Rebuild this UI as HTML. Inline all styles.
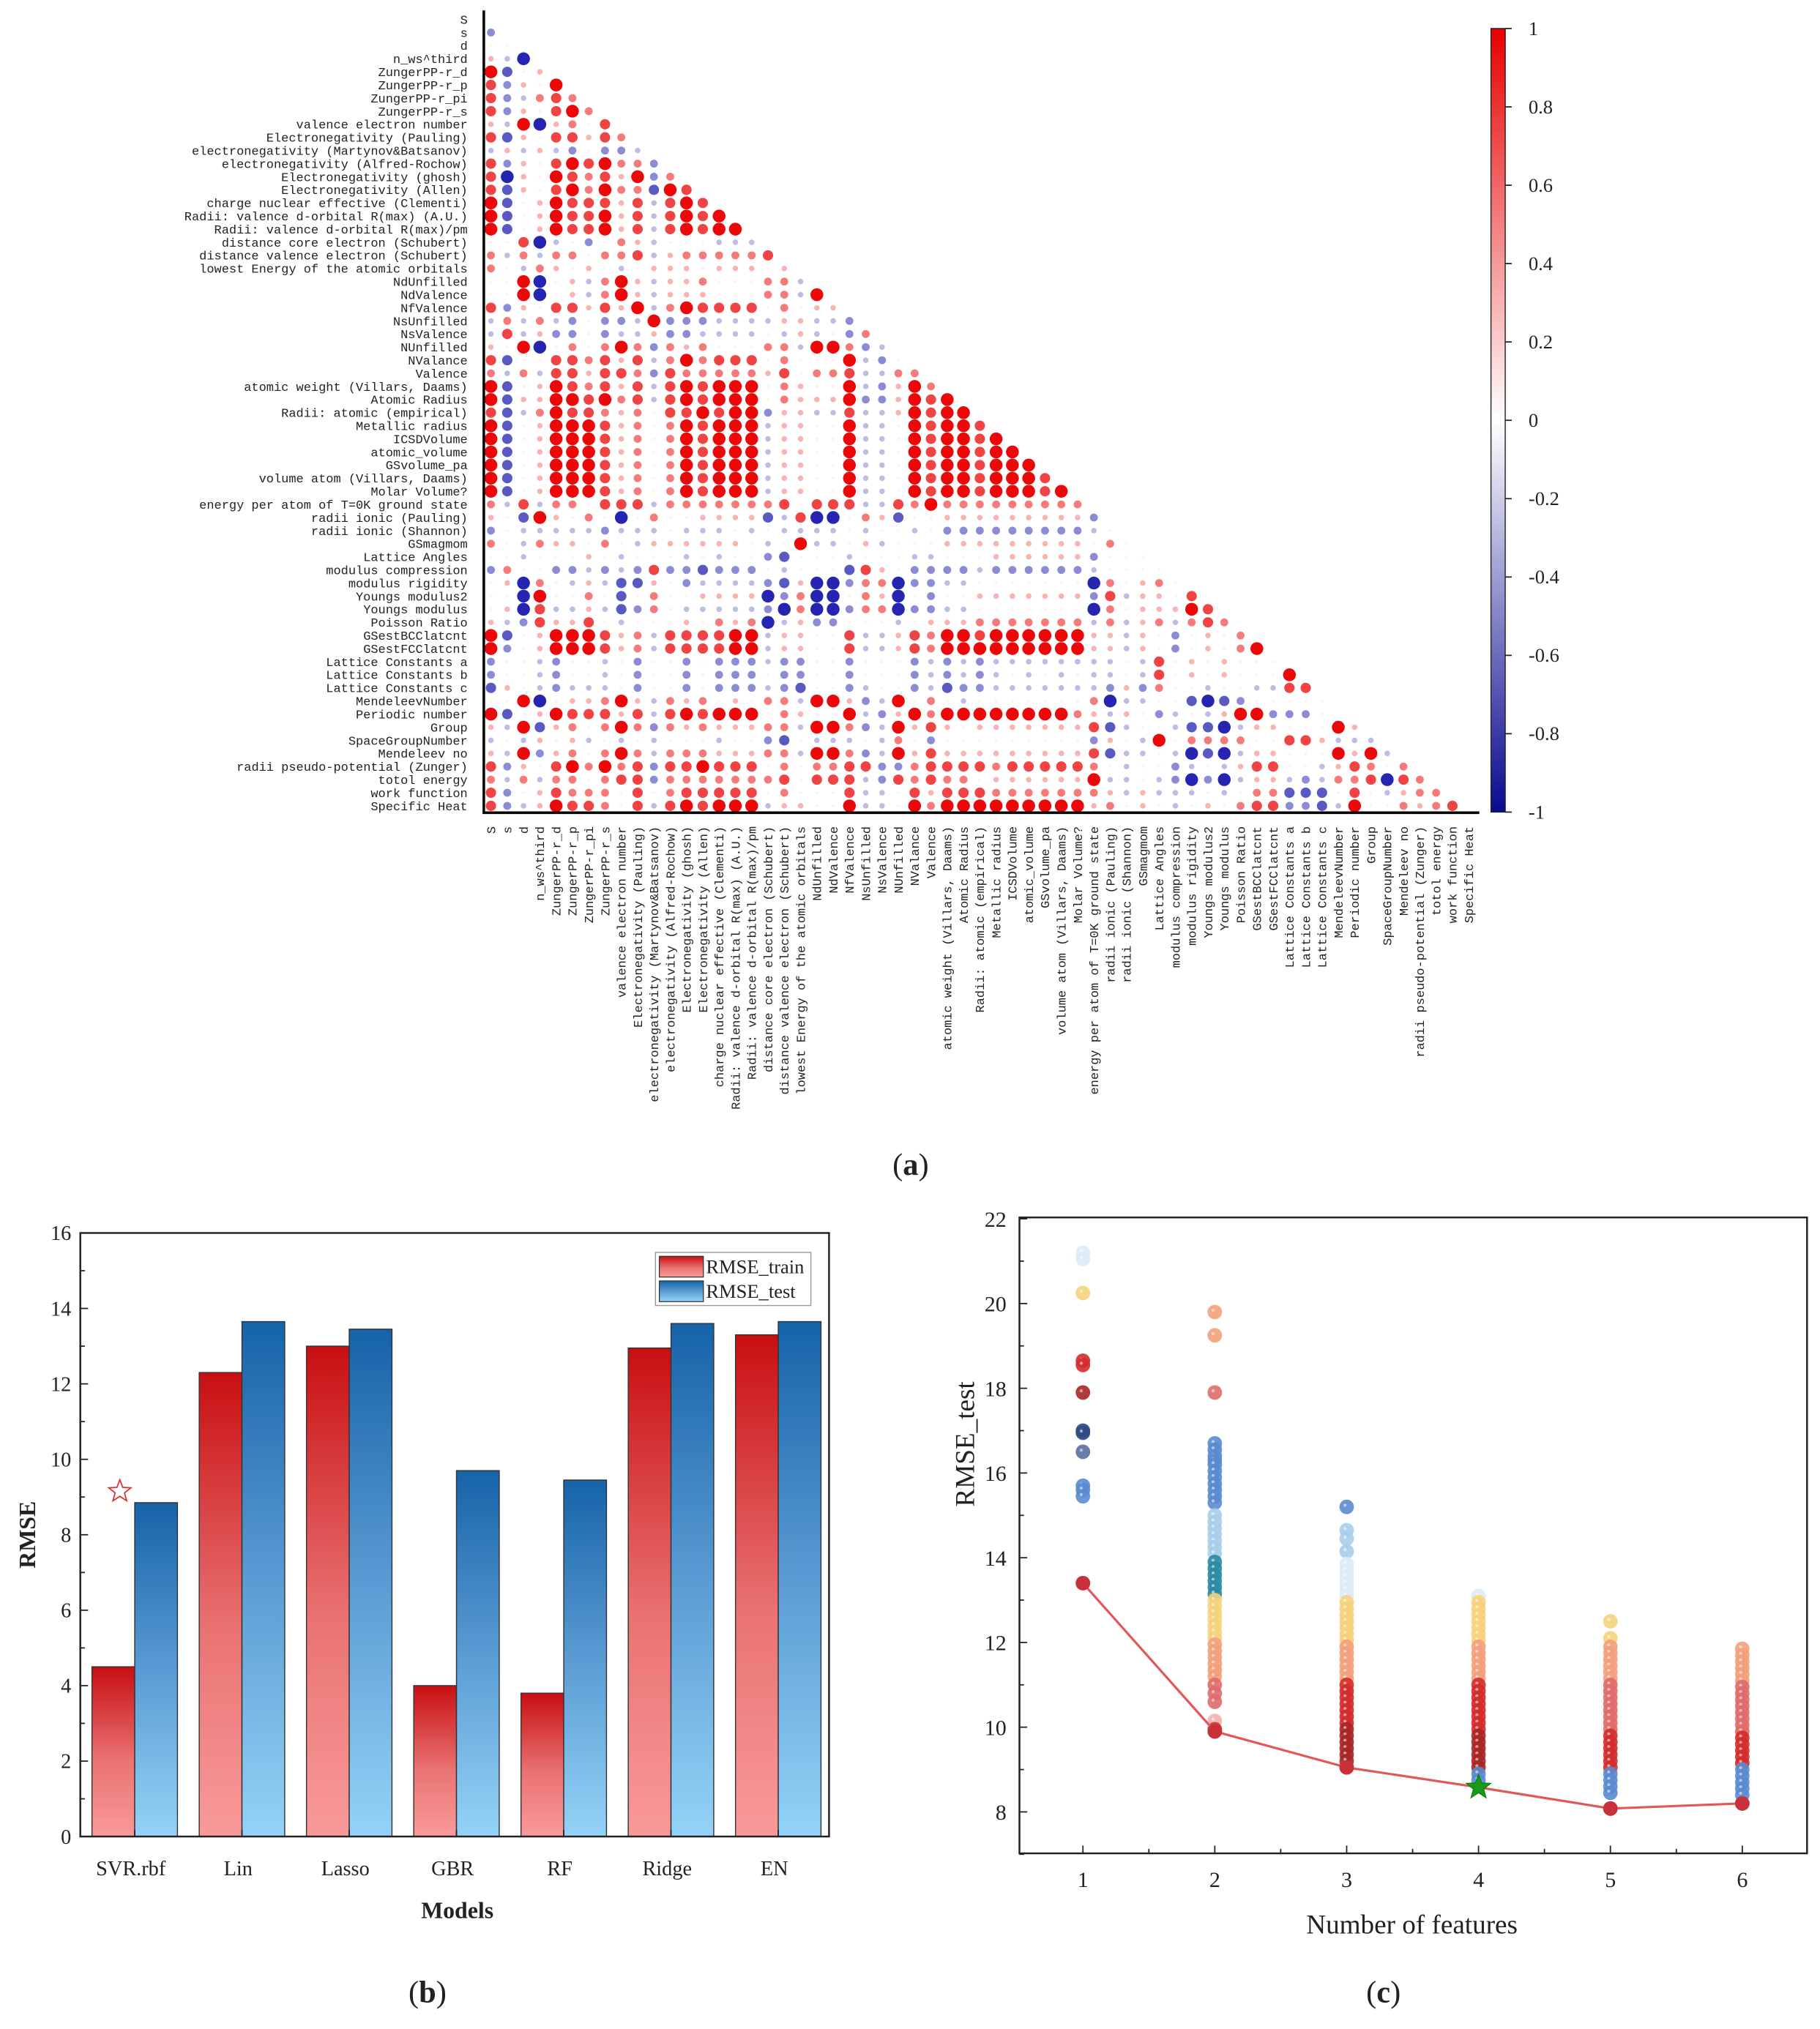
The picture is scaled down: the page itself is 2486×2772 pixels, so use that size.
<!DOCTYPE html>
<html><head><meta charset="utf-8"><style>
html,body{margin:0;padding:0;background:#fff;}
svg{display:block;}
.mono{font-family:"Liberation Mono",monospace;font-size:9.6px;fill:#222;}
.serif{font-family:"Liberation Serif",serif;fill:#222;}
</style></head><body>
<svg id="fig" xmlns="http://www.w3.org/2000/svg" width="2486" height="2772" viewBox="0 0 1405 1566.6">
<defs>
<linearGradient id="cbGrad" x1="0" y1="0" x2="0" y2="1">
<stop offset="0" stop-color="#e80000"/><stop offset="0.5" stop-color="#ffffff"/><stop offset="1" stop-color="#0a0a90"/>
</linearGradient>
<linearGradient id="trainGrad" x1="0" y1="0" x2="0" y2="1">
<stop offset="0" stop-color="#c80f12"/><stop offset="0.55" stop-color="#e97272"/><stop offset="1" stop-color="#f99a9a"/>
</linearGradient>
<linearGradient id="testGrad" x1="0" y1="0" x2="0" y2="1">
<stop offset="0" stop-color="#1663a8"/><stop offset="0.5" stop-color="#5a9bd3"/><stop offset="1" stop-color="#93d3f7"/>
</linearGradient>
</defs>
<g id="corr"></g>
<g id="bars"></g>
<g id="scat"></g>
<text x="703" y="907" text-anchor="middle" class="serif" font-size="24">(<tspan font-weight="bold">a</tspan>)</text>
<text x="330" y="1546" text-anchor="middle" class="serif" font-size="24">(<tspan font-weight="bold">b</tspan>)</text>
<text x="1068" y="1546" text-anchor="middle" class="serif" font-size="24">(<tspan font-weight="bold">c</tspan>)</text>
</svg>
<script>
const NS="http://www.w3.org/2000/svg";
function mk(parent,tag,attrs,txt){const e=document.createElementNS(NS,tag);for(const k in attrs)e.setAttribute(k,attrs[k]);if(txt!==undefined)e.textContent=txt;parent.appendChild(e);return e;}
function starPts(cx,cy,R,r){const p=[];for(let k=0;k<10;k++){const a=-Math.PI/2+k*Math.PI/5;const rr=k%2?r:R;p.push((cx+rr*Math.cos(a)).toFixed(2)+','+(cy+rr*Math.sin(a)).toFixed(2));}return p.join(' ');}

// ---------- (a) correlation matrix data ----------
const varNames=["S","s","d","n_ws^third","ZungerPP-r_d","ZungerPP-r_p","ZungerPP-r_pi","ZungerPP-r_s","valence electron number","Electronegativity (Pauling)","electronegativity (Martynov&Batsanov)","electronegativity (Alfred-Rochow)","Electronegativity (ghosh)","Electronegativity (Allen)","charge nuclear effective (Clementi)","Radii: valence d-orbital R(max) (A.U.)","Radii: valence d-orbital R(max)/pm","distance core electron (Schubert)","distance valence electron (Schubert)","lowest Energy of the atomic orbitals","NdUnfilled","NdValence","NfValence","NsUnfilled","NsValence","NUnfilled","NValance","Valence","atomic weight (Villars, Daams)","Atomic Radius","Radii: atomic (empirical)","Metallic radius","ICSDVolume","atomic_volume","GSvolume_pa","volume atom (Villars, Daams)","Molar Volume?","energy per atom of T=0K ground state","radii ionic (Pauling)","radii ionic (Shannon)","GSmagmom","Lattice Angles","modulus compression","modulus rigidity","Youngs modulus2","Youngs modulus","Poisson Ratio","GSestBCClatcnt","GSestFCClatcnt","Lattice Constants a","Lattice Constants b","Lattice Constants c","MendeleevNumber","Periodic number","Group","SpaceGroupNumber","Mendeleev no","radii pseudo-potential (Zunger)","totol energy","work function","Specific Heat"];
// correlation level codes per row (lower triangle): 0 ~ none, 1-4 positive, a-d negative
const corrRows=["","b","00","1ad","4c01","3b104","3ba232","3b10342","1a4d1203","3c1033132","a1a1ab0bba","3b10343422b","3d10432314b2","3c10342422c43","4c01433313a343","4c01433413a3434","4c01433413a34344","003da0b021a000aaa","2a2a220223a1222223","20a21010a0111011101","004d01a241a11200022a","004d01a241a11100022a4","3b10331314a24333302011","a2a2ab0bba4bbbaaaa11aab","a3a1bb0baa1bbaaaa0a1a0b2","104d020242b21200022a442ba","3c00332313a242333020004ab0","2a2a331332b322222130223aa22","4c01432313a343444021004ab142","4c11443423a343444021114bb1434","3ca24332120334344b11aa3aa14344",
"4c014443120243444a11004aa043443","4c014443120243444a11004aa0434434","4c014443120243444a11004aa04344344","4c014443120243444a11004aa043443444","4c014443120243444a11004aa0434434443","4c014443120243444a11004aa04344344434",
"2a3a220333a222222230333aa324222222222","10c41020d02001111ca3dd021c00111111111b","b0aaaaabaaa0aaa0a0aaaa0a00a0bbbbbbbbba0","20a211020a1111110a04aa01a0001111111110201",
"00a00010a000a0a00bc000a000aa000111111b000","b200bbabab3bbcbbb0a000c310bbbbabbbbbba0000","01d20a1acc10baaaabc1ddb22dbbaa0000000d20120","00d40020c02001111db2dd021d0b001111111b3a1103","01d3aa1acb20aaaaabd2ddb22dbbaa0000000d2011143","1ab31130a00010212da1bb000a01112222222a2a12a232",
"4c01444312a333344a11003aa13244344444411a10b0102","4b01444312a333344a11003aa13244444444411a10b01024","b00ab00a0b00b0bbbabb00b000bababaaaaaaaa0a30101000","b00ab00a0b00b0bbb0bb00b000bababa0a0a0aa0a301010004","c10abaaa0b00b0bbbabc00ba00bacbbaaaaaaab1b200a00aa33",
"004d011241a21201022a441ba4020a00000002daa00cdcb00000","4c01433313a343444021004ab1424444444421a10ba0a144bbb0","1a4c120242b21211122a442ba4131011111113ca00accda1100041","a0a101a0a0a000a00bc0aaa0a20b000000000b10a40222200331aaa","1a4b120242a22211122a442ba4131111111113caa0adcda11000414a",
"3b10342423b3343330202233bb2333323333320a00ba0a13300a13202","2a2a220233b222222230333ab3232201111114aa0abdbda11aba223d32","3b013222030233333020003aa03133322222221a1aaa0a022ccc030a122","3ba1433203a343444a11004aa04244444444412010a010233bbca4002123"];
const levelValues={"0":0.05,"1":0.27,"2":0.47,"3":0.67,"4":0.88,"a":-0.27,"b":-0.47,"c":-0.67,"d":-0.88};
const cbTicks=["1","0.8","0.6","0.4","0.2","0","-0.2","-0.4","-0.6","-0.8","-1"];

const corr=document.getElementById('corr');
const mx0=379,mdx=12.58,my0=15,mdy=10.12;
function mX(c){return mx0+mdx*c;}
function mY(r){return my0+mdy*r;}
function corrColor(v){const t=Math.min(1,Math.abs(v)*1.1);
 if(v>=0)return `rgb(${Math.round(255-20*t)},${Math.round(255-255*t)},${Math.round(255-255*t)})`;
 return `rgb(${Math.round(255-225*t)},${Math.round(255-225*t)},${Math.round(255-80*t)})`;}
for(let r=0;r<varNames.length;r++){
 const lab=mk(corr,'text',{x:361,y:mY(r)+3.3,'text-anchor':'end',class:'mono'},varNames[r]);
 
 
 const cl=mk(corr,'text',{transform:`translate(${mX(r)+3.3},638) rotate(-90)`,'text-anchor':'end',class:'mono'},varNames[r]);
 
 
 const row=corrRows[r]||"";
 for(let c=0;c<row.length&&c<r;c++){
  const v=levelValues[row[c]];if(v===undefined)continue;
  const dot=mk(corr,'circle',{cx:mX(c),cy:mY(r),r:0.9+4.6*Math.abs(v),fill:corrColor(v)});
  
  
 }
}
const ax1=mk(corr,'path',{d:'M373.5 8 V627.5 H1142',stroke:'#000','stroke-width':2,fill:'none'});


const cb=mk(corr,'rect',{x:1151,y:22,width:11,height:605,fill:'url(#cbGrad)',stroke:'#222','stroke-width':0.8});


cbTicks.forEach((t,i)=>{const y=22+i*60.5;
 const tk=mk(corr,'line',{x1:1162,x2:1167,y1:y,y2:y,stroke:'#222','stroke-width':1});
 
 
 const tl=mk(corr,'text',{x:1180,y:y+5,class:'serif','font-size':15},t);
 
 
});

// ---------- (b) bar chart ----------
const models=["SVR.rbf","Lin","Lasso","GBR","RF","Ridge","EN"];
const rmseTrain=[4.5,12.3,13.0,4.0,3.8,12.95,13.3];
const rmseTest=[8.85,13.65,13.45,9.7,9.45,13.6,13.65];
const barYTicks=[0,2,4,6,8,10,12,14,16];
const bars=document.getElementById('bars');
const bL=62,bR=640,bT=952,bB=1418,bMax=16;
function bY(v){return bB-(v/bMax)*(bB-bT);}
function bX(i){return 71+82.8*i;}
const bw=33;
models.forEach((m,i)=>{
 const x=bX(i);
 const r1=mk(bars,'rect',{x:x,y:bY(rmseTrain[i]),width:bw,height:bB-bY(rmseTrain[i]),fill:'url(#trainGrad)',stroke:'#333','stroke-width':0.8});
 
 
 const r2=mk(bars,'rect',{x:x+bw,y:bY(rmseTest[i]),width:bw,height:bB-bY(rmseTest[i]),fill:'url(#testGrad)',stroke:'#333','stroke-width':0.8});
 
 
 const xl=mk(bars,'text',{x:x+bw-3,y:1448,'text-anchor':'middle',class:'serif','font-size':16},m);
 
 
 const xt=mk(bars,'line',{x1:x+bw,x2:x+bw,y1:bB,y2:bB-5,stroke:'#222'});
 
 
});
barYTicks.forEach(v=>{const y=bY(v);
 const t=mk(bars,'line',{x1:bL,x2:bL+6,y1:y,y2:y,stroke:'#222','stroke-width':1});
 
 
 if(v<16){const m=mk(bars,'line',{x1:bL,x2:bL+3.5,y1:bY(v+1),y2:bY(v+1),stroke:'#222'});
  
  }
 const l=mk(bars,'text',{x:bL-7,y:y+5.5,'text-anchor':'end',class:'serif','font-size':16},String(v));
 
 
});
const bf=mk(bars,'rect',{x:bL,y:bT,width:bR-bL,height:bB-bT,fill:'none',stroke:'#222','stroke-width':1.4});


const star=mk(bars,'polygon',{points:starPts(bX(0)+bw/2+5,bY(9.15),9,3.8),fill:'none',stroke:'#e03030','stroke-width':1});


const lg=mk(bars,'rect',{x:506,y:967,width:120,height:41,fill:'#fff',stroke:'#999','stroke-width':0.8});


[["RMSE_train","url(#trainGrad)",970],["RMSE_test","url(#testGrad)",989]].forEach(([n,f,y])=>{
 const s=mk(bars,'rect',{x:509,y:y,width:34,height:16,fill:f,stroke:'#333','stroke-width':0.7});
 
 
 const t=mk(bars,'text',{x:545,y:y+13,class:'serif','font-size':15},n);
 
 
});
const byt=mk(bars,'text',{transform:'translate(27,1185) rotate(-90)','text-anchor':'middle',class:'serif','font-size':18,'font-weight':'bold'},'RMSE');


const bxt=mk(bars,'text',{x:353,y:1481,'text-anchor':'middle',class:'serif','font-size':18,'font-weight':'bold'},'Models');



// ---------- (c) scatter ----------
const featCounts=[1,2,3,4,5,6];
const bestRmse=[13.4,9.9,9.05,8.58,8.08,8.2];
const col1Vals=[21.2,21.05,20.25,18.65,18.55,17.9,17.0,16.95,16.5,15.7,15.6,15.45,13.4];
const col1Cols="PPYRRDNNSBBBR";
const col2Vals=[19.8,19.25,17.9,16.7,16.55,16.4,16.3,16.2,16.05,15.9,15.75,15.6,15.45,15.3,15.0,14.85,14.7,14.55,14.4,14.25,14.1,13.9,13.75,13.6,13.45,13.3,13.15,13.0,12.85,12.7,12.55,12.4,12.25,12.1,11.95,11.8,11.65,11.5,11.35,11.2,11.0,10.8,10.6,10.15,9.95,9.9];
const col2Cols="OOMBBBBBBBBBBBLLLLLLLTTTTTTYYYYYYYOOOOOOMMMKRR";
const col3Vals=[15.2,14.65,14.45,14.15,13.85,13.7,13.55,13.4,13.25,13.1,12.95,12.8,12.65,12.5,12.35,12.2,12.05,11.9,11.75,11.6,11.45,11.3,11.15,11.0,10.85,10.7,10.55,10.4,10.25,10.1,9.95,9.8,9.65,9.5,9.35,9.2,9.05];
const col3Cols="BLLLPPPPPPYYYYYYYOOOOOORRRRRRRDDDDDDR";
const col4Vals=[13.1,12.95,12.8,12.65,12.5,12.35,12.2,12.05,11.9,11.75,11.6,11.45,11.3,11.15,11.0,10.85,10.7,10.55,10.4,10.25,10.1,9.95,9.8,9.65,9.5,9.35,9.2,9.05,8.9,8.75];
const col4Cols="PYYYYYYYOOOOOORRRRRRRRDDDDDDBB";
const col5Vals=[12.5,12.1,11.9,11.75,11.6,11.45,11.3,11.15,11.0,10.85,10.7,10.55,10.4,10.25,10.1,9.95,9.8,9.65,9.5,9.35,9.2,9.05,8.9,8.75,8.6,8.45,8.08];
const col5Cols="YYOOOOOOMMMMMMMMRRRRRRBBBBD";
const col6Vals=[11.85,11.7,11.55,11.4,11.25,11.1,10.95,10.8,10.65,10.5,10.35,10.2,10.05,9.9,9.75,9.6,9.45,9.3,9.15,9.0,8.85,8.7,8.55,8.4,8.2];
const col6Cols="OOOOOOMMMMMMMMRRRRRBBBBBD";
const scatterCols=[[col1Vals,col1Cols],[col2Vals,col2Cols],[col3Vals,col3Cols],[col4Vals,col4Cols],[col5Vals,col5Cols],[col6Vals,col6Cols]];
const sYTicks=[8,10,12,14,16,18,20,22];
const palette={P:'#dcebf7',Y:'#f6d27c',R:'#d42c2c',D:'#a82626',N:'#2d4a85',S:'#5670a3',B:'#5a8bd2',L:'#a8cdea',T:'#2a8aa3',O:'#f3a07c',M:'#e06a6a',K:'#f2b0b0'};
const scat=document.getElementById('scat');
const sL=787,sR=1395,sT=940,sB=1431;
function sX(n){return 836+101.8*(n-1);}
function sY(v){return 1399-(v-8)*32.71;}
sYTicks.forEach(v=>{const y=sY(v);
 const t=mk(scat,'line',{x1:sL,x2:sL+6,y1:y,y2:y,stroke:'#222'});
 
 
 const m=mk(scat,'line',{x1:sL,x2:sL+3.5,y1:sY(v-1),y2:sY(v-1),stroke:'#222'});
 
 
 const l=mk(scat,'text',{x:sL-10,y:y+6,'text-anchor':'end',class:'serif','font-size':17},String(v));
 
 
});
featCounts.forEach(n=>{const x=sX(n);
 const t=mk(scat,'line',{x1:x,x2:x,y1:sB,y2:sB-6,stroke:'#222'});
 
 
 if(n<6){const m=mk(scat,'line',{x1:x+50.9,x2:x+50.9,y1:sB,y2:sB-3.5,stroke:'#222'});
  
  }
 const l=mk(scat,'text',{x:x,y:1457,'text-anchor':'middle',class:'serif','font-size':17},String(n));
 
 
});
scatterCols.forEach(([vals,cols],i)=>{
 vals.forEach((v,j)=>{
  const p=mk(scat,'circle',{cx:sX(featCounts[i]),cy:sY(v),r:5.6,fill:palette[cols[j]]||'#d42c2c','fill-opacity':0.9});
  
  
  const h=mk(scat,'circle',{cx:sX(featCounts[i])-1.3,cy:sY(v)-1.3,r:1.2,fill:'#fff','fill-opacity':0.55});
  
  
 });
});
const linePts=bestRmse.map((v,i)=>sX(featCounts[i])+','+sY(v)).join(' ');
const bl=mk(scat,'polyline',{points:linePts,fill:'none',stroke:'#e05858','stroke-width':1.8});


bestRmse.forEach((v,i)=>{if(i===3)return;
 const p=mk(scat,'circle',{cx:sX(featCounts[i]),cy:sY(v),r:5.6,fill:'#c8303a'});
 
 
});
const gs=mk(scat,'polygon',{points:starPts(sX(4),sY(bestRmse[3]),10,4.2),fill:'#1a9a1a',stroke:'#0d7a0d','stroke-width':0.6});


const sf=mk(scat,'rect',{x:sL,y:sT,width:sR-sL,height:sB-sT,fill:'none',stroke:'#222','stroke-width':1.4});


const syt=mk(scat,'text',{transform:'translate(752,1115) rotate(-90)','text-anchor':'middle',class:'serif','font-size':21},'RMSE_test');


const sxt=mk(scat,'text',{x:1090,y:1493,'text-anchor':'middle',class:'serif','font-size':21},'Number of features');


</script>
</body></html>
